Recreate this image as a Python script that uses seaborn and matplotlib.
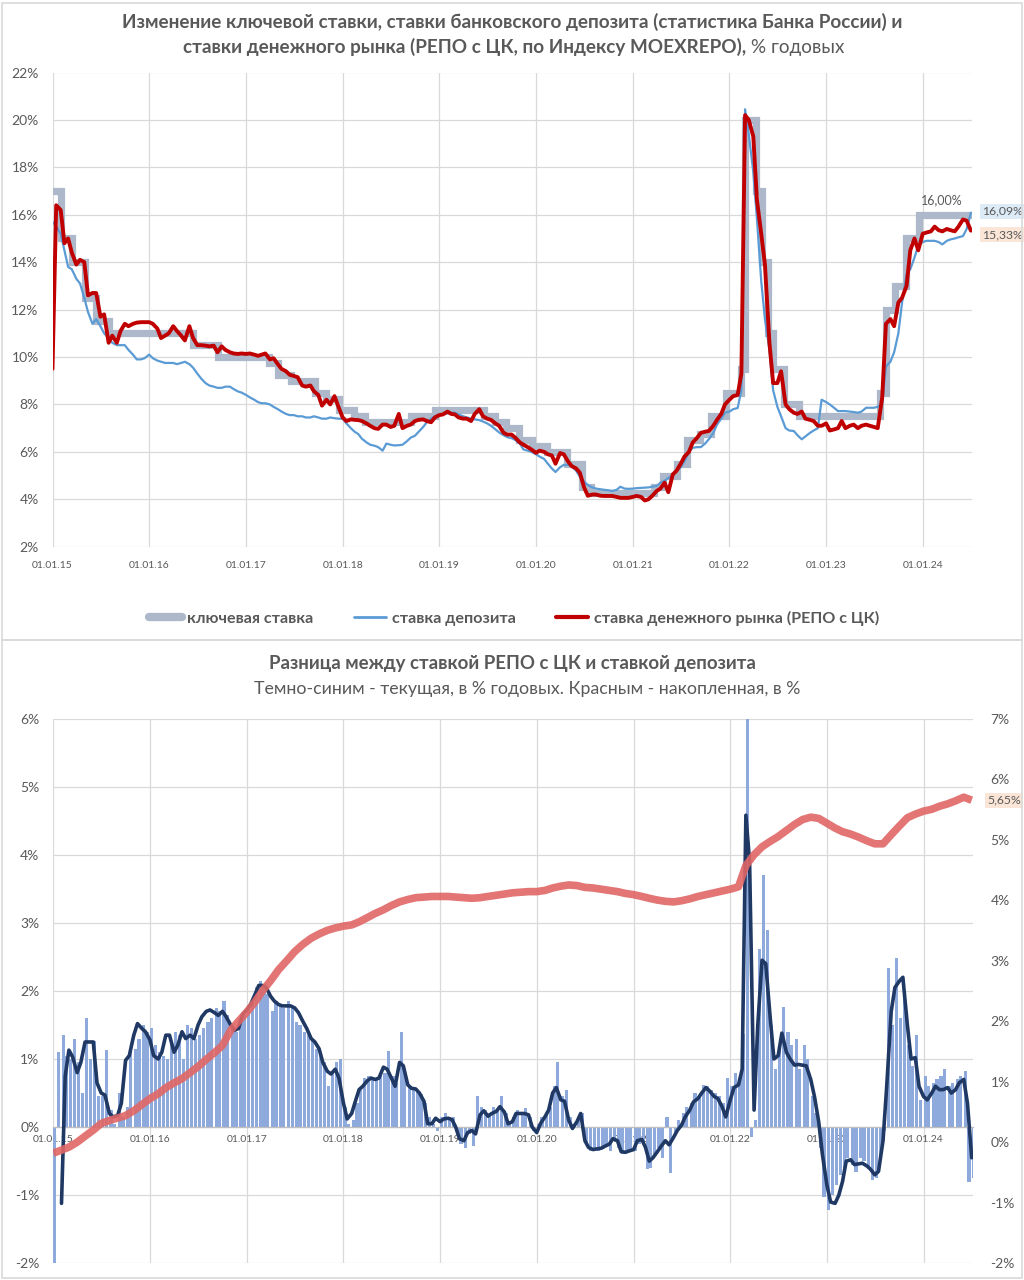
import datetime as dt
import numpy as np
import pandas as pd
import matplotlib
matplotlib.use("Agg")
import matplotlib.pyplot as plt
import matplotlib.dates as mdates
from matplotlib.patches import Rectangle
from matplotlib.lines import Line2D
import seaborn as sns

sns.set_theme(style="white")
plt.rcParams["font.family"] = ["Lato", "DejaVu Sans"]

# ---------------- data ----------------
# half-monthly observation dates (1st and 15th of each month), Jan 2015 .. Jul 2024
dates = pd.date_range("2015-01-01", "2024-07-01", freq="SMS")

key_dates = ["2015-01-01", "2015-02-03", "2015-03-16", "2015-05-05", "2015-06-16", "2015-08-03",
             "2016-06-14", "2016-09-19", "2017-03-27", "2017-05-02", "2017-06-19", "2017-09-18",
             "2017-10-30", "2017-12-18", "2018-02-12", "2018-03-26", "2018-09-17", "2018-12-17",
             "2019-06-17", "2019-07-29", "2019-09-09", "2019-10-28", "2019-12-16", "2020-02-10",
             "2020-04-27", "2020-06-22", "2020-07-27", "2021-03-22", "2021-04-26", "2021-06-15",
             "2021-07-26", "2021-09-13", "2021-10-25", "2021-12-20", "2022-02-14", "2022-02-28",
             "2022-04-11", "2022-05-04", "2022-05-27", "2022-06-14", "2022-07-25", "2022-09-19",
             "2023-07-24", "2023-08-15", "2023-09-18", "2023-10-30", "2023-12-18", "2024-07-01"]
key_rate = [17, 15, 14, 12.5, 11.5, 11,
            10.5, 10, 9.75, 9.25, 9, 8.5,
            8.25, 7.75, 7.5, 7.25, 7.5, 7.75,
            7.5, 7.25, 7, 6.5, 6.25, 6,
            5.5, 4.5, 4.25, 4.5, 5, 5.5,
            6.5, 6.75, 7.5, 8.5, 9.5, 20,
            17, 14, 11, 9.5, 8, 7.5,
            8.5, 12, 13, 15, 16, 16]

repo_rate = [
    9.5, 16.4, 16.2, 14.8, 15.0, 14.4, 13.9, 14.1, 14.0, 12.6, 12.7, 12.7, 11.7, 11.8, 10.6, 10.9, 10.6, 11.1, 11.4, 11.3, 11.4, 11.45, 11.47, 11.47,
    11.47, 11.4, 11.2, 10.8, 10.9, 11.0, 11.3, 11.1, 10.9, 10.7, 11.3, 10.8, 10.5, 10.5, 10.48, 10.45, 10.48, 10.2, 10.45, 10.3, 10.2, 10.15, 10.13, 10.15,
    10.13, 10.15, 10.1, 10.05, 10.1, 10.15, 9.9, 9.95, 9.7, 9.5, 9.4, 9.25, 9.2, 9.15, 8.8, 8.75, 8.8, 8.55, 8.4, 7.95, 8.2, 8.0, 8.35, 7.93,
    7.45, 7.3, 7.37, 7.35, 7.34, 7.3, 7.2, 7.1, 7.0, 6.97, 7.15, 7.15, 7.05, 7.1, 7.6, 7.0, 7.1, 7.15, 7.3, 7.35, 7.37, 7.3, 7.25, 7.45,
    7.55, 7.58, 7.7, 7.6, 7.58, 7.45, 7.4, 7.4, 7.3, 7.6, 7.8, 7.5, 7.4, 7.35, 7.2, 7.1, 6.8, 6.73, 6.73, 6.6, 6.4, 6.3, 6.2, 6.1,
    5.96, 6.05, 6.0, 5.9, 5.85, 5.5, 5.95, 5.9, 5.6, 5.4, 5.3, 5.12, 4.5, 4.15, 4.2, 4.2, 4.15, 4.14, 4.14, 4.14, 4.1, 4.06, 4.06, 4.06,
    4.1, 4.14, 4.1, 3.95, 4.0, 4.14, 4.35, 4.45, 4.7, 4.3, 5.05, 5.2, 5.5, 5.8, 6.0, 6.39, 6.6, 6.8, 6.85, 6.88, 7.1, 7.35, 7.6, 8.0,
    8.2, 8.35, 8.4, 9.3, 20.2, 20.0, 19.3, 16.6, 15.2, 13.9, 10.6, 8.9, 8.9, 9.4, 8.0, 7.8, 7.65, 7.6, 7.7, 7.4, 7.35, 7.3, 7.1, 7.1,
    7.2, 6.9, 6.95, 7.0, 7.3, 7.0, 7.1, 7.15, 7.0, 7.1, 7.15, 7.1, 7.05, 7.0, 8.3, 11.4, 11.6, 11.3, 12.3, 12.5, 13.0, 14.5, 15.0, 14.5,
    15.2, 15.25, 15.3, 15.5, 15.35, 15.3, 15.4, 15.35, 15.3, 15.5, 15.8, 15.75, 15.33]

deposit_rate = [
    15.7, 15.5, 15.2, 14.5, 13.8, 13.7, 13.3, 13.1, 12.5, 11.9, 11.4, 11.6, 11.3, 11.0, 10.8, 10.6, 10.5, 10.5, 10.5, 10.3, 10.1, 9.9, 9.9, 9.95,
    10.1, 9.95, 9.85, 9.8, 9.75, 9.75, 9.75, 9.7, 9.75, 9.8, 9.7, 9.55, 9.3, 9.1, 8.9, 8.8, 8.75, 8.7, 8.7, 8.75, 8.75, 8.65, 8.55, 8.5,
    8.4, 8.3, 8.2, 8.1, 8.05, 8.05, 8.0, 7.9, 7.8, 7.7, 7.6, 7.55, 7.55, 7.5, 7.5, 7.45, 7.45, 7.5, 7.45, 7.4, 7.4, 7.45, 7.42, 7.4,
    7.4, 7.2, 7.0, 6.85, 6.75, 6.55, 6.4, 6.3, 6.26, 6.2, 6.05, 6.35, 6.3, 6.27, 6.28, 6.3, 6.45, 6.6, 6.68, 6.85, 7.05, 7.25, 7.4, 7.5,
    7.57, 7.6, 7.62, 7.65, 7.65, 7.58, 7.5, 7.45, 7.4, 7.37, 7.34, 7.28, 7.2, 7.1, 6.95, 6.82, 6.7, 6.62, 6.58, 6.5, 6.35, 6.1, 6.05, 6.0,
    5.9, 5.8, 5.7, 5.5, 5.3, 5.15, 5.35, 5.45, 5.45, 5.4, 5.2, 4.95, 4.75, 4.6, 4.5, 4.45, 4.42, 4.4, 4.38, 4.35, 4.4, 4.53, 4.45, 4.44,
    4.45, 4.47, 4.48, 4.49, 4.5, 4.53, 4.56, 4.7, 4.78, 4.9, 5.0, 5.2, 5.35, 5.6, 6.0, 6.17, 6.2, 6.2, 6.35, 6.53, 6.8, 7.15, 7.4, 7.65,
    7.7, 7.8, 7.85, 8.6, 20.45, 19.4, 17.8, 15.8, 13.2, 11.6, 10.3, 8.6, 7.9, 7.5, 7.0, 6.9, 6.88, 6.7, 6.53, 6.65, 6.8, 6.9, 7.0, 8.2,
    8.1, 8.0, 7.85, 7.72, 7.72, 7.72, 7.7, 7.68, 7.65, 7.7, 7.86, 7.86, 7.86, 7.9, 8.07, 9.6, 9.8, 10.2, 11.0, 12.3, 13.5, 13.7, 14.2, 14.7,
    14.85, 14.9, 14.9, 14.9, 14.85, 14.75, 14.9, 14.96, 15.0, 15.05, 15.1, 15.4, 16.09]

# current spread REPO - deposit, % p.a. (bars)
spread_bars = [
    -2.1, 1.1, 1.35, 1.05, 1.0, 1.3, 0.95, 0.5, 1.6, 1.0, 1.27, 0.45, 0.45, 1.13, 0.25, 0.05, 0.5, 0.15, 0.3, 1.1, 1.15, 1.3, 1.5, 1.4,
    1.45, 1.2, 1.1, 1.05, 1.0, 1.2, 1.4, 1.35, 1.0, 1.5, 1.45, 1.3, 1.35, 1.45, 1.55, 1.6, 1.75, 1.7, 1.85, 1.65, 1.5, 1.4, 1.55, 1.65,
    1.75, 1.85, 2.05, 2.15, 2.1, 1.95, 1.7, 1.85, 1.8, 1.75, 1.85, 1.75, 1.55, 1.5, 1.4, 1.35, 1.3, 1.15, 1.1, 0.95, 0.6, 0.8, 0.95, 1.0,
    0.3, 0.05, 0.1, 0.35, 0.55, 0.72, 0.75, 0.72, 0.7, 0.75, 0.8, 1.12, 0.75, 0.65, 1.4, 0.8, 0.6, 0.55, 0.55, 0.48, 0.35, 0.15, 0.05, -0.05,
    0.15, 0.2, 0.1, 0.15, -0.1, -0.25, -0.3, -0.1, -0.28, 0.45, 0.3, 0.25, 0.2, 0.3, 0.25, 0.45, 0.2, 0.05, 0.15, 0.25, 0.2, 0.28, 0.15, -0.05,
    0.05, 0.15, 0.2, 0.3, 0.6, 0.95, 0.45, 0.55, 0.15, 0.05, 0.1, 0.2, -0.25, -0.35, -0.3, -0.35, -0.3, -0.28, -0.35, -0.2, -0.3, -0.4, -0.38, -0.35,
    -0.35, -0.25, -0.2, -0.62, -0.6, -0.4, -0.3, -0.45, 0.15, -0.68, -0.1, 0.1, 0.2, 0.3, 0.35, 0.5, 0.45, 0.62, 0.6, 0.55, 0.5, 0.45, 0.35, 0.72,
    0.6, 0.8, 0.72, 1.37, 7.5, -0.15, 0.1, 2.62, 3.7, 2.9, 1.5, 0.85, 1.2, 1.76, 1.4, 1.2, 1.3, 0.85, 1.21, 1.0, 0.45, 0.2, -0.3, -1.02,
    -1.21, -1.0, -0.85, -0.7, -0.6, -0.45, -0.55, -0.66, -0.45, -0.5, -0.6, -0.77, -0.75, -0.47, -0.05, 2.33, 1.5, 2.49, 1.6, 1.9, 1.2, 0.9, 1.35, 0.4,
    0.75, 0.6, 0.65, 0.7, 0.75, 0.85, 0.6, 0.65, 0.7, 0.75, 0.83, -0.8, -0.75]

# smoothed current spread (dark blue line)
spread_smooth = [
    np.nan, np.nan, -1.12, 0.75, 1.13, 1.03, 0.8, 0.95, 1.25, 1.25, 1.25, 0.65, 0.5, 0.47, 0.2, 0.15, 0.17, 0.35, 0.98, 1.05, 1.35, 1.52, 1.45, 1.4,
    1.28, 1.05, 1.0, 1.1, 1.35, 1.35, 1.1, 1.2, 1.4, 1.3, 1.35, 1.3, 1.5, 1.62, 1.7, 1.72, 1.68, 1.64, 1.7, 1.62, 1.5, 1.42, 1.45, 1.65,
    1.72, 1.8, 1.95, 2.08, 2.08, 2.05, 1.92, 1.85, 1.8, 1.78, 1.78, 1.78, 1.75, 1.68, 1.55, 1.45, 1.3, 1.25, 1.15, 0.95, 0.82, 0.78, 0.85, 0.72,
    0.35, 0.12, 0.2, 0.38, 0.55, 0.6, 0.68, 0.72, 0.7, 0.72, 0.88, 0.85, 0.72, 0.6, 0.95, 0.9, 0.62, 0.57, 0.56, 0.5, 0.38, 0.05, 0.05, 0.13,
    0.08, 0.12, 0.13, 0.11, 0.0, -0.17, -0.2, -0.08, -0.05, -0.1, 0.18, 0.24, 0.16, 0.2, 0.23, 0.3, 0.22, 0.05, 0.08, 0.2, 0.2, 0.2, 0.18, 0.0,
    -0.08, 0.05, 0.15, 0.25, 0.5, 0.58, 0.4, 0.38, 0.1, -0.02, 0.08, 0.2, -0.2, -0.3, -0.33, -0.32, -0.31, -0.28, -0.25, -0.17, -0.2, -0.36, -0.37, -0.35,
    -0.33, -0.2, -0.18, -0.3, -0.5, -0.45, -0.36, -0.28, -0.2, -0.26, -0.15, -0.05, 0.03, 0.15, 0.25, 0.37, 0.42, 0.5, 0.58, 0.53, 0.45, 0.42, 0.3, 0.15,
    0.4, 0.58, 0.62, 0.85, 4.58, 3.9, 0.25, 1.5, 2.45, 2.4, 1.6, 1.0, 1.05, 1.38, 1.1, 1.0, 0.91, 0.92, 0.91, 0.9, 0.7, 0.45, 0.08, -0.4,
    -0.85, -1.1, -1.12, -1.0, -0.8, -0.5, -0.48, -0.55, -0.54, -0.53, -0.57, -0.62, -0.7, -0.65, -0.2, 0.6, 1.7, 2.05, 2.14, 2.2, 1.5, 1.0, 1.02, 0.6,
    0.45, 0.4, 0.5, 0.6, 0.55, 0.55, 0.58, 0.5, 0.55, 0.65, 0.7, 0.35, -0.45]

# accumulated spread, % (monthly, right axis)
accum_spread = [
    -0.18, -0.13, -0.08, 0.0, 0.1, 0.2, 0.31, 0.36, 0.4, 0.44, 0.52, 0.62,
    0.72, 0.8, 0.9, 0.98, 1.05, 1.15, 1.25, 1.37, 1.48, 1.6, 1.85, 2.0,
    2.15, 2.32, 2.5, 2.67, 2.85, 3.0, 3.15, 3.27, 3.37, 3.44, 3.5, 3.54,
    3.57, 3.59, 3.64, 3.71, 3.78, 3.84, 3.91, 3.97, 4.01, 4.04, 4.05, 4.06,
    4.06, 4.06, 4.05, 4.04, 4.03, 4.04, 4.06, 4.08, 4.1, 4.12, 4.13, 4.14,
    4.14, 4.16, 4.2, 4.23, 4.25, 4.24, 4.21, 4.2, 4.18, 4.16, 4.14, 4.11,
    4.09, 4.06, 4.03, 4.0, 3.98, 3.97, 3.99, 4.02, 4.06, 4.09, 4.12, 4.15,
    4.18, 4.22, 4.57, 4.75, 4.88, 4.97, 5.05, 5.15, 5.25, 5.33, 5.37, 5.35,
    5.27, 5.19, 5.13, 5.09, 5.04, 4.98, 4.93, 4.93, 5.08, 5.22, 5.36, 5.42,
    5.47, 5.5, 5.55, 5.59, 5.64, 5.7, 5.65]

key_label = "16,00%"
dep_label = "16,09%"
repo_label = "15,33%"
accum_label = "5,65%"

# ---------------- styling ----------------
GRAY = "#595959"
GRID = "#D9D9D9"
C_KEY = "#ADB9CA"
C_DEP = "#5B9BD5"
C_REPO = "#C00000"
C_BAR = "#8EA9DB"
C_NAVY = "#1F3864"
C_ACC = "#E06666"

W, H = 1024, 1280
fig = plt.figure(figsize=(W / 100, H / 100), dpi=100)
fig.patch.set_facecolor("white")

top = pd.DataFrame({"date": dates, "repo": repo_rate, "dep": deposit_rate})
keydf = pd.DataFrame({"date": pd.to_datetime(key_dates), "key": key_rate})
bot = pd.DataFrame({"date": dates, "bars": spread_bars, "smooth": spread_smooth})
acc = pd.DataFrame({"date": dates[::2], "acc": accum_spread})

xmin = pd.Timestamp("2015-01-01")
xmax = pd.Timestamp("2024-07-04")

# ---------------- top chart ----------------
ax = fig.add_axes([52.5 / W, 1 - 546.7 / H, (971.7 - 52.5) / W, (546.7 - 72.5) / H])
sns.lineplot(data=keydf, x="date", y="key", ax=ax, color=C_KEY, lw=5.2,
             drawstyle="steps-post", legend=False, solid_joinstyle="miter")
sns.lineplot(data=top, x="date", y="dep", ax=ax, color=C_DEP, lw=1.6, legend=False)
sns.lineplot(data=top, x="date", y="repo", ax=ax, color=C_REPO, lw=2.8, legend=False)

ax.set_xlim(xmin, xmax)
ax.set_ylim(2, 22)
ax.set_yticks(range(2, 23, 2))
ax.set_yticklabels([f"{v}%" for v in range(2, 23, 2)])
ax.xaxis.set_major_locator(mdates.YearLocator())
ax.xaxis.set_major_formatter(mdates.DateFormatter("%d.%m.%y"))
ax.grid(True, color=GRID, lw=0.9)
ax.set_axisbelow(True)
for s in ax.spines.values():
    s.set_visible(False)
ax.tick_params(axis="y", labelsize=10, labelcolor=GRAY, length=0, pad=10)
ax.tick_params(axis="x", labelsize=7.5, labelcolor=GRAY, length=0, pad=10)
ax.set_xlabel("")
ax.set_ylabel("")

ax.text(pd.Timestamp("2024-03-12"), 16.6, key_label, fontsize=9, color=GRAY,
        ha="center", va="center")
ax.annotate(dep_label, xy=(dates[-1], 16.09), xytext=(8, 1), textcoords="offset points",
            fontsize=8.8, color=GRAY, va="center", ha="left", annotation_clip=False,
            bbox=dict(boxstyle="square,pad=0.15", fc="#DDEBF7", ec="none"))
ax.annotate(repo_label, xy=(dates[-1], 15.33), xytext=(8, -3), textcoords="offset points",
            fontsize=8.8, color=GRAY, va="center", ha="left", annotation_clip=False,
            bbox=dict(boxstyle="square,pad=0.15", fc="#FBE5D6", ec="none"))

handles = [Line2D([], [], color=C_KEY, lw=6, solid_capstyle="round"),
           Line2D([], [], color=C_DEP, lw=2),
           Line2D([], [], color=C_REPO, lw=3)]
labels = ["ключевая ставка", "ставка депозита", "ставка денежного рынка (РЕПО с ЦК)"]
fig.legend(handles, labels, loc="center", bbox_to_anchor=(0.502, 1 - 618 / H), ncol=3,
           frameon=False, handlelength=2.0, handletextpad=0.35, columnspacing=2.5,
           prop={"weight": "bold", "size": 11.6}, labelcolor=GRAY)

# ---------------- bottom chart ----------------
axb = fig.add_axes([53.3 / W, 1 - 1263.3 / H, (972.5 - 53.3) / W, (1263.3 - 718.5) / H])
bar_x = [d.to_pydatetime() for d in dates]
axb.bar(bar_x, spread_bars, width=dt.timedelta(days=12), align="edge", color=C_BAR,
        edgecolor="none", zorder=1)
sns.lineplot(data=bot, x="date", y="smooth", ax=axb, color=C_NAVY, lw=2.6, legend=False, zorder=3)
axb.set_xlim(xmin, xmax)
axb.set_ylim(-2, 6)
axb.set_yticks(range(-2, 7))
axb.set_yticklabels([f"{v}%" for v in range(-2, 7)])
axb.xaxis.set_major_locator(mdates.YearLocator())
axb.xaxis.set_major_formatter(mdates.DateFormatter("%d.%m.%y"))
axb.grid(True, color=GRID, lw=0.9)
axb.set_axisbelow(True)
for k, s in axb.spines.items():
    s.set_visible(k == "bottom")
axb.spines["bottom"].set_position(("data", 0))
axb.spines["bottom"].set_color("#BFBFBF")
axb.spines["bottom"].set_linewidth(0.9)
axb.tick_params(axis="y", labelsize=10, labelcolor=GRAY, length=0, pad=10)
axb.tick_params(axis="x", labelsize=7.5, labelcolor=GRAY, length=0, pad=6)
axb.set_xlabel("")
axb.set_ylabel("")

axr = axb.twinx()
sns.lineplot(data=acc, x="date", y="acc", ax=axr, color=C_ACC, lw=5.5, alpha=0.9,
             legend=False, solid_capstyle="butt")
axr.set_ylim(-2, 7)
axr.set_yticks(range(-2, 8))
axr.set_yticklabels([f"{v}%" for v in range(-2, 8)])
axr.set_xlim(xmin, xmax)
for s in axr.spines.values():
    s.set_visible(False)
axr.grid(False)
axr.tick_params(axis="y", labelsize=10, labelcolor=GRAY, length=0, pad=13)
axr.set_ylabel("")
axr.set_xlabel("")
axr.annotate(accum_label, xy=(dates[-1], 5.65), xytext=(11, 0), textcoords="offset points",
             fontsize=8.8, color=GRAY, va="center", ha="left", annotation_clip=False,
             bbox=dict(boxstyle="square,pad=0.15", fc="#FBE5D6", ec="none"))

# ---------------- titles ----------------
TSIZE = 13.6
fig.text(0.5, 1 - 22 / H, "Изменение ключевой ставки, ставки банковского депозита (статистика Банка России) и",
         fontsize=TSIZE, fontweight="bold", color=GRAY, ha="center", va="center")
t_a = fig.text(0, 1 - 47 / H, "ставки денежного рынка (РЕПО с ЦК, по Индексу MOEXREPO),",
               fontsize=TSIZE, fontweight="bold", color=GRAY, ha="left", va="center")
t_b = fig.text(0, 1 - 47 / H, " % годовых", fontsize=TSIZE, color=GRAY, ha="left", va="center")
fig.text(0.5, 1 - 663 / H, "Разница между ставкой РЕПО с ЦК и ставкой депозита",
         fontsize=13.4, fontweight="bold", color=GRAY, ha="center", va="center")
fig.text(527 / W, 1 - 689 / H, "Темно-синим - текущая, в % годовых. Красным - накопленная, в %",
         fontsize=12.8, color=GRAY, ha="center", va="center")

fig.canvas.draw()
r = fig.canvas.get_renderer()
wa = t_a.get_window_extent(r).width
wb = t_b.get_window_extent(r).width
x0 = 514 - (wa + wb) / 2
t_a.set_x(x0 / W)
t_b.set_x((x0 + wa) / W)

# panel frames
fig.add_artist(Rectangle((2 / W, 1 - 640 / H), 1020 / W, 637 / H, transform=fig.transFigure,
                         fill=False, ec=GRID, lw=1.2))
fig.add_artist(Rectangle((2 / W, 2 / H), 1020 / W, 638 / H, transform=fig.transFigure,
                         fill=False, ec=GRID, lw=1.2))

fig.savefig("out.png", dpi=100, facecolor="white")
